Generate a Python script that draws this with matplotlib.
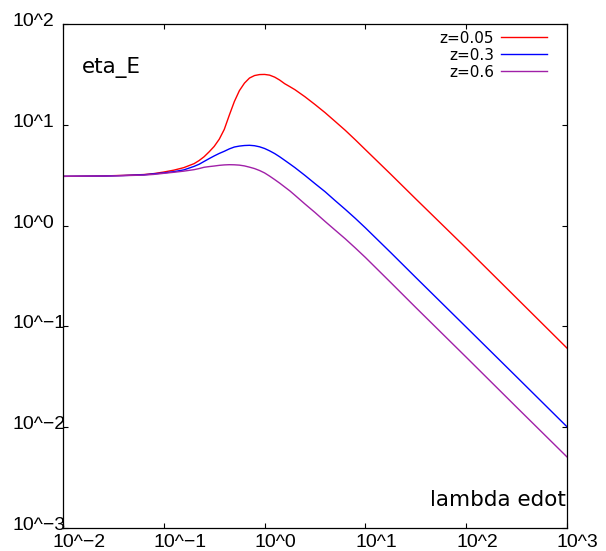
import matplotlib
matplotlib.use("Agg")
import matplotlib.pyplot as plt
from matplotlib.ticker import NullLocator
from matplotlib.transforms import blended_transform_factory, offset_copy

# lambda edot sample points and eta_E for each redshift
lam = [0.01, 0.0251, 0.0398, 0.0631, 0.0794, 0.1, 0.126, 0.158, 0.2, 0.224,
       0.251, 0.282, 0.316, 0.355, 0.398, 0.447, 0.501, 0.562, 0.631, 0.708,
       0.794, 0.891, 1.0, 1.12, 1.26, 1.41, 1.58, 1.78, 2.0, 2.51,
       3.16, 3.98, 5.01, 6.31, 7.94, 10.0, 17.8, 31.6, 100.0, 316.0,
       1000.0]

eta_z005 = [3.08, 3.11, 3.15, 3.21, 3.28, 3.40, 3.55, 3.76, 4.12, 4.42,
            4.82, 5.40, 6.10, 7.20, 9.00, 12.5, 17.0, 21.8, 25.9, 29.1,
            30.8, 31.5, 31.6, 31.1, 29.7, 27.8, 25.6, 23.9, 22.3, 19.0,
            15.9, 13.2, 10.8, 8.82, 7.10, 5.67, 3.24, 1.84, 0.598, 0.191,
            0.0609]
eta_z03 = [3.08, 3.10, 3.14, 3.19, 3.26, 3.33, 3.43, 3.57, 3.87, 4.06,
           4.33, 4.62, 4.91, 5.20, 5.46, 5.77, 6.02, 6.15, 6.23, 6.26,
           6.20, 6.05, 5.82, 5.52, 5.18, 4.82, 4.45, 4.09, 3.76, 3.15,
           2.61, 2.17, 1.77, 1.45, 1.18, 0.950, 0.541, 0.306, 0.0984, 0.0316,
           0.0101]
eta_z06 = [3.08, 3.10, 3.13, 3.17, 3.22, 3.30, 3.38, 3.47, 3.59, 3.68,
           3.79, 3.85, 3.90, 3.96, 4.00, 4.02, 4.01, 3.98, 3.91, 3.80,
           3.68, 3.52, 3.33, 3.10, 2.86, 2.64, 2.42, 2.21, 2.00, 1.64,
           1.35, 1.10, 0.902, 0.740, 0.600, 0.483, 0.273, 0.154, 0.0495, 0.0158,
           0.00507]

series_names = ["z=0.05", "z=0.3", "z=0.6"]
series_colors = ["#ff0000", "#0000ff", "#a020a8"]

x_ticks = [1e-2, 1e-1, 1e0, 1e1, 1e2, 1e3]
x_tick_labels = ["10^−2", "10^−1", "10^0", "10^1", "10^2", "10^3"]
y_ticks = [1e-3, 1e-2, 1e-1, 1e0, 1e1, 1e2]
y_tick_labels = ["10^−3", "10^−2", "10^−1", "10^0", "10^1", "10^2"]

W, H = 606, 551
fig = plt.figure(figsize=(W / 100, H / 100), dpi=100)
ax = fig.add_axes([63 / W, 23 / H, 504 / W, 504 / H])

for ys, c in zip([eta_z005, eta_z03, eta_z06], series_colors):
    ax.plot(lam, ys, color=c, lw=1.0)

ax.set_xscale("log")
ax.set_yscale("log")
ax.set_xlim(1e-2, 1e3)
ax.set_ylim(1e-3, 1e2)
ax.set_xticks(x_ticks)
ax.set_yticks(y_ticks)
ax.xaxis.set_minor_locator(NullLocator())
ax.yaxis.set_minor_locator(NullLocator())
ax.tick_params(direction="in", top=True, right=True, length=3.6, width=0.8,
               labelbottom=False, labelleft=False)
for sp in ax.spines.values():
    sp.set_linewidth(0.9)
    sp.set_color("black")

tick_font = dict(family="Liberation Sans", fontsize=14, color="black")

# tick labels, gnuplot style
xtr = offset_copy(blended_transform_factory(ax.transData, ax.transAxes),
                  fig=fig, x=-10, y=-19, units="dots")
for xt, lab in zip(x_ticks, x_tick_labels):
    ax.text(xt, 0, lab, transform=xtr, ha="left", va="baseline",
            clip_on=False, **tick_font)

ytr = offset_copy(blended_transform_factory(fig.transFigure, ax.transData),
                  fig=fig, x=0, y=-2, units="dots")
for yt, lab in zip(y_ticks, y_tick_labels):
    ax.text(12 / W, yt, lab, transform=ytr, ha="left", va="baseline",
            clip_on=False, **tick_font)

# key in the top right corner
key_tr = offset_copy(ax.transAxes, fig=fig, x=0, y=-6.5, units="dots")
for i, (name, c) in enumerate(zip(series_names, series_colors)):
    yk = (528 - 36.7 - 17 * i) / 504
    ax.plot([0.869, 0.960], [yk, yk], transform=ax.transAxes, color=c, lw=1.0)
    ax.text(0.855, yk, name, ha="right", va="baseline", transform=key_tr,
            family="DejaVu Sans", fontsize=11)

ax.text(0.037, 0.902, "eta_E", transform=ax.transAxes, ha="left", va="baseline",
        family="DejaVu Sans", fontsize=15.5)
ax.text(0.998, 0.044, "lambda edot", transform=ax.transAxes, ha="right",
        va="baseline", family="DejaVu Sans", fontsize=15.5)

fig.savefig("out.png", dpi=100)
